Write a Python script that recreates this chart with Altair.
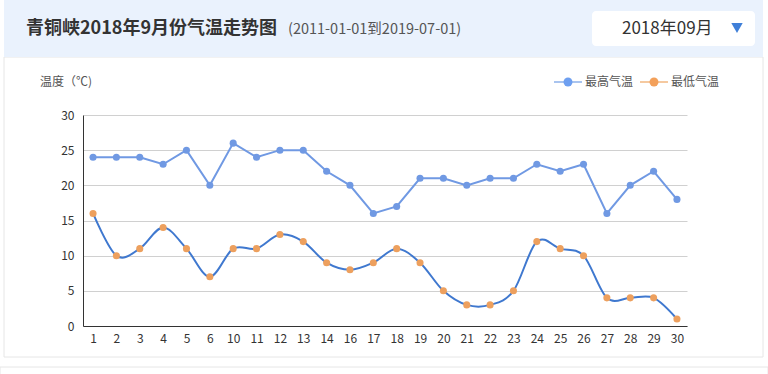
import altair as alt
import pandas as pd

days = ["1", "2", "3", "4", "5", "6", "10", "11", "12", "13", "14", "16", "17",
        "18", "19", "20", "21", "22", "23", "24", "25", "26", "27", "28", "29", "30"]
high = [24, 24, 24, 23, 25, 20, 26, 24, 25, 25, 22, 20, 16, 17, 21, 21, 20, 21, 21,
        23, 22, 23, 16, 20, 22, 18]
low = [16, 10, 11, 14, 11, 7, 11, 11, 13, 12, 9, 8, 9, 11, 9, 5, 3, 3, 5, 12, 11,
       10, 4, 4, 4, 1]
series_names = ["最高气温", "最低气温"]
title_text = "青铜峡2018年9月份气温走势图"
subtitle_text = "(2011-01-01到2019-07-01)"
select_text = "2018年09月"
y_title = "温度（℃)"

FONT = "Noto Sans CJK SC"
OX, OY = 83, 115          # plot origin in page pixels
W, H = 604, 211           # plot area size

def px(x):
    return x - OX

def py(y):
    return y - OY

df_high = pd.DataFrame({"day": days, "temp": high})
df_low = pd.DataFrame({"day": days, "temp": low})

xenc = alt.X("day:O", sort=days,
             scale=alt.Scale(type="point", padding=0.43),
             axis=alt.Axis(title=None, labelAngle=0, ticks=False, domainColor="#333",
                           labelColor="#333", labelFontSize=12, labelPadding=7,
                           labelFont=FONT, grid=False))
yenc = alt.Y("temp:Q", scale=alt.Scale(domain=[0, 30]),
             axis=alt.Axis(title=None, values=[0, 5, 10, 15, 20, 25, 30], ticks=False,
                           domainColor="#333", labelColor="#333", labelFontSize=12,
                           labelPadding=9, labelFont=FONT, gridColor="#d0d0d0",
                           grid=True))

HIGH_C = "#7099e3"
LOW_LINE_C = "#3f78cf"
LOW_PT_C = "#eda05e"

high_line = alt.Chart(df_high).mark_line(color=HIGH_C, strokeWidth=2).encode(x=xenc, y=yenc)
high_pts = alt.Chart(df_high).mark_circle(color=HIGH_C, size=50, opacity=1).encode(x=xenc, y=yenc)
low_line = alt.Chart(df_low).mark_line(color=LOW_LINE_C, strokeWidth=2,
                                       interpolate="cardinal").encode(x=xenc, y=yenc)
low_pts = alt.Chart(df_low).mark_circle(color=LOW_PT_C, size=50, opacity=1).encode(x=xenc, y=yenc)

one = pd.DataFrame({"a": [0]})
base = alt.Chart(one)

def rect(x1, y1, x2, y2, fill, stroke=None, radius=0, fill_opacity=1):
    kw = dict(fill=fill, cornerRadius=radius, fillOpacity=fill_opacity)
    if stroke:
        kw["stroke"] = stroke
        kw["strokeWidth"] = 1
    return base.mark_rect(**kw).encode(
        x=alt.value(px(x1)), x2=alt.value(px(x2)),
        y=alt.value(py(y1)), y2=alt.value(py(y2)))

def text(x, y, s, size=12, color="#333", weight="normal", align="left"):
    return base.mark_text(text=s, fontSize=size, color=color, fontWeight=weight,
                          align=align, baseline="middle", font=FONT).encode(
        x=alt.value(px(x)), y=alt.value(py(y)))

def hline(x1, x2, y, color, width=2):
    return base.mark_rule(color=color, strokeWidth=width).encode(
        x=alt.value(px(x1)), x2=alt.value(px(x2)), y=alt.value(py(y)))

def dot(x, y, color, size=70, shape="circle"):
    return base.mark_point(shape=shape, filled=True, color=color, size=size,
                           opacity=1).encode(x=alt.value(px(x)), y=alt.value(py(y)))

decor = [
    rect(4, 57, 763, 357, "#ffffff", stroke="#e6e6e6", fill_opacity=0),
    rect(4, 0, 763, 57, "#eaf2fd"),
    rect(0, 367, 768, 380, "#ffffff", stroke="#e6e6e6", fill_opacity=0),
    rect(592, 11, 755, 46, "#ffffff", radius=4),
    text(26, 29, title_text, size=18, color="#333", weight="bold"),
    text(288, 30, subtitle_text, size=14.5, color="#555"),
    text(622, 29, select_text, size=17, color="#333"),
    dot(737, 28, "#3f7fd8", size=130, shape="triangle-down"),
    text(40, 82, y_title, size=12, color="#555"),
    hline(554, 582, 82, "#a9c4ef"),
    dot(568, 82, "#6e9ff0", size=80),
    text(585, 82, series_names[0], size=12, color="#555"),
    hline(640, 668, 82, "#f5c9a0"),
    dot(654, 82, "#f3a05a", size=80),
    text(671, 82, series_names[1], size=12, color="#555"),
]

chart = alt.layer(*decor, high_line, high_pts, low_line, low_pts).properties(
    width=W, height=H,
    autosize=alt.AutoSizeParams(type="none"),
    padding={"left": OX, "top": OY, "right": 768 - OX - W, "bottom": 374 - OY - H},
    background="#ffffff",
).configure_view(stroke=None)

chart.save("out.html", embed_options={"renderer": "svg", "actions": False})
